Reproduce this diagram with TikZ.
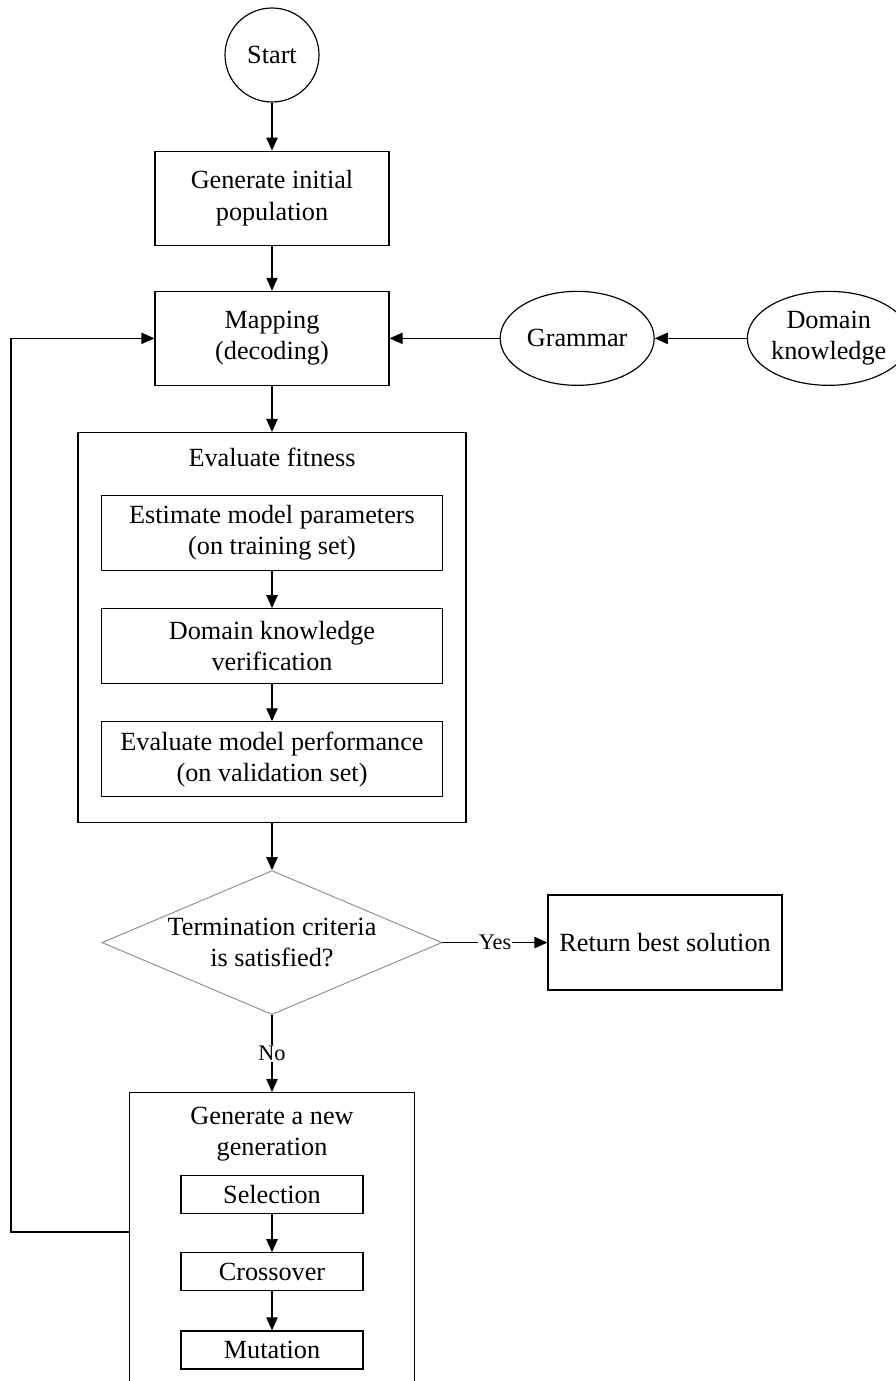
\documentclass[tikz,border=0pt]{standalone}
\usepackage{fontspec}
\setmainfont{Liberation Serif}
\usepackage{tikz}
\usetikzlibrary{positioning}
\usetikzlibrary{arrows.meta,shapes.geometric}

\newcommand{\flowfont}{\fontsize{22.4}{26.5}\selectfont}
\newcommand{\answerfont}{\fontsize{19}{23}\selectfont}

\tikzset{
	flowbox/.style={draw, line width=1pt, align=center, inner sep=0pt, minimum width=7.02cm, minimum height=2.82cm},
	innerbox/.style={draw, line width=1pt, align=center, inner sep=0pt, minimum width=10.23cm, minimum height=2.25cm},
	smallbox/.style={draw, line width=1pt, align=center, inner sep=0pt, minimum width=5.46cm, minimum height=1.14cm},
	outerbox/.style={draw, line width=1pt, inner sep=0pt},
	startnode/.style={draw, circle, line width=1pt, inner sep=0pt, minimum size=2.82cm},
	source/.style={draw, ellipse, line width=1pt, align=center, inner sep=0pt, minimum height=2.82cm},
	decision/.style={draw=black!45, diamond, line width=0.8pt, inner sep=0pt, minimum width=10.2cm, minimum height=4.32cm},
	arrow/.style={-{Triangle[length=0.39cm, width=0.34cm]}, line width=1pt},
	answer/.style={fill=white, inner sep=1pt, font=\answerfont},
}

\begin{document}
\begin{tikzpicture}[font=\flowfont]
		
		% ---------------------
		% Proper size --- Bounding box
		\useasboundingbox (0cm, 0cm) rectangle (26.85cm, -41.43cm);
		
		% ---------------------
		% Main column
		
		\node[startnode] (start) at (8.16cm, -1.65cm) {Start};
		\node[flowbox, below=1.44cm of start] (init) {Generate initial\\population};
		\node[flowbox, below=1.35cm of init] (mapping) {Mapping\\(decoding)};
		
		\node[source, minimum width=4.62cm, right=3.3cm of mapping] (grammar) {Grammar};
		\node[source, minimum width=4.44cm, right=2.76cm of grammar] (domain) {Domain\\knowledge};
		
		% ---------------------
		% Fitness block
		
		\node[outerbox, minimum width=11.64cm, minimum height=11.7cm, below=1.38cm of mapping] (fitness) {};
		\node[yshift=-0.75cm] (fitnesstitle) at (fitness.north) {Evaluate fitness};
		
		\node[innerbox, below=1.89cm of fitness.north] (estimate) {Estimate model parameters\\(on training set)};
		\node[innerbox, below=1.11cm of estimate] (verify) {Domain knowledge\\verification};
		\node[innerbox, below=1.11cm of verify] (perform) {Evaluate model performance\\(on validation set)};
		
		% ---------------------
		% Decision
		
		\node[decision, below=1.41cm of fitness,
			label={[align=center]center:Termination criteria\\is satisfied?}] (term) {};
		\node[flowbox, minimum height=2.85cm, right=3.15cm of term] (best) {Return best solution};
		
		% ---------------------
		% New generation block
		
		\node[outerbox, minimum width=8.55cm, minimum height=9.6cm, below=2.31cm of term] (newgen) {};
		\node[align=center, yshift=-1.26cm] (newgentitle) at (newgen.north) {Generate a new\\generation};
		
		\node[smallbox, below=2.49cm of newgen.north] (selection) {Selection};
		\node[smallbox, below=1.14cm of selection] (crossover) {Crossover};
		\node[smallbox, below=1.17cm of crossover] (mutation) {Mutation};
		
		\coordinate (Loop) at (0.33cm, -36.96cm);
		
		% ---------------------
		\draw[arrow] (start) -- (init);
		\draw[arrow] (init) -- (mapping);
		\draw[arrow] (mapping) -- (fitness);
		\draw[arrow] (domain) -- (grammar);
		\draw[arrow] (grammar) -- (mapping);
		
		\draw[arrow] (estimate) -- (verify);
		\draw[arrow] (verify) -- (perform);
		
		\draw[arrow] (fitness) -- (term.north);
		\draw[arrow] (term.east) -- node[answer] {Yes} (best);
		\draw[arrow] (term.south) -- node[answer] {No} (newgen);
		
		\draw[arrow] (selection) -- (crossover);
		\draw[arrow] (crossover) -- (mutation);
		
		\draw[arrow] (Loop -| newgen.west) -- (Loop) |- (mapping.west);
		
\end{tikzpicture}
\end{document}
